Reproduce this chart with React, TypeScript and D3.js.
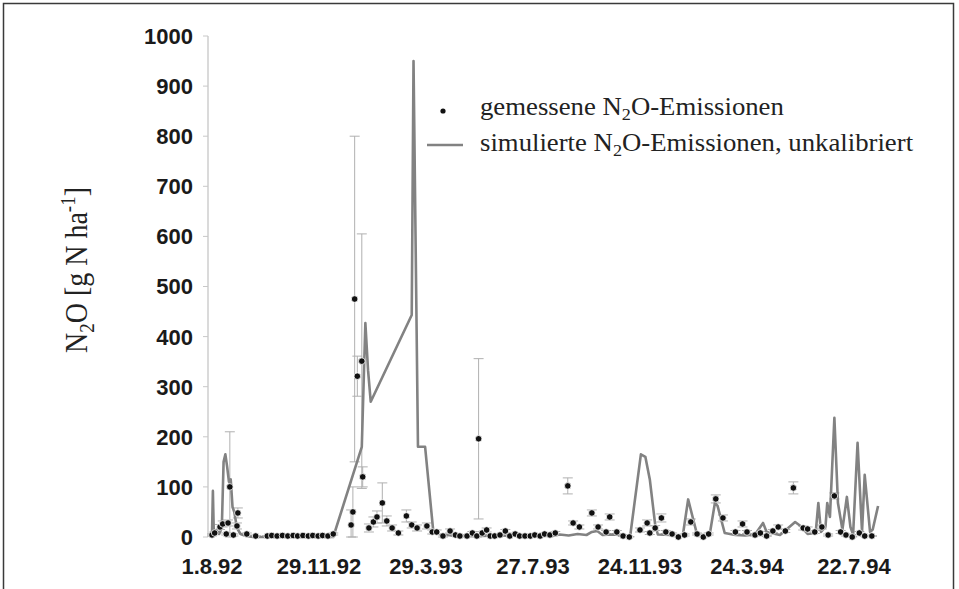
import React from "react";
import * as d3 from "d3";

// Days since 1.8.1992 for each measurement, measured flux and its error
const measDay = [0, 3, 9, 12, 16, 18, 20, 24, 28, 29, 39, 49, 62, 67, 73, 79, 85, 91, 96, 102, 108, 113, 119, 124, 130, 136,
  156, 158, 160, 163, 168, 169, 176, 181, 185, 191, 196, 202, 209, 218, 224, 230, 241, 247, 252, 259, 267, 273, 278, 286, 292, 297, 299, 303, 308,
  312, 317, 323, 329, 334, 340, 345, 351, 357, 362, 368, 373, 379, 385, 399, 405, 412, 426, 433, 442, 446, 454, 461, 468,
  480, 488, 491, 497, 504, 509, 516, 523, 530, 537, 544, 551, 557, 565, 573, 587, 595, 600, 609, 615,
  622, 629, 635, 643, 652, 663, 668, 676, 684, 691, 698, 705, 711, 718, 726, 732, 740];
const measValue = [4, 8, 20, 26, 6, 28, 100, 4, 22, 48, 6, 2, 2, 3, 2, 3, 2, 3, 2, 3, 2, 3, 2, 3, 2, 6,
  24, 50, 475, 321, 351, 120, 18, 30, 40, 68, 32, 18, 8, 42, 24, 18, 22, 10, 10, 2, 12, 4, 2, 2, 8, 2, 196, 8, 14,
  2, 2, 4, 12, 2, 6, 2, 2, 2, 4, 2, 6, 4, 8, 102, 28, 20, 48, 20, 10, 40, 10, 2, 0,
  14, 28, 8, 18, 38, 10, 6, 0, 4, 30, 6, 0, 6, 76, 38, 10, 26, 10, 4, 8,
  2, 12, 20, 12, 98, 18, 16, 10, 20, 4, 82, 10, 4, 0, 8, 2, 2];
const measErr = [2, 3, 5, 6, 2, 6, 110, 2, 6, 10, 2, 1, 1, 1, 1, 1, 1, 1, 1, 1, 1, 1, 1, 1, 1, 2,
  30, 50, 325, 40, 254, 20, 8, 10, 12, 40, 10, 6, 4, 12, 6, 6, 6, 4, 4, 2, 4, 2, 2, 2, 3, 2, 160, 3, 4,
  1, 1, 2, 3, 1, 2, 1, 1, 1, 2, 1, 2, 2, 3, 16, 4, 4, 6, 4, 3, 6, 3, 1, 1,
  4, 6, 3, 5, 8, 3, 2, 1, 2, 6, 2, 1, 2, 8, 6, 3, 6, 3, 2, 3,
  1, 3, 4, 3, 12, 4, 4, 3, 4, 2, 6, 3, 2, 1, 3, 1, 1];

// Simulated (uncalibrated) model output
const simDay = [0, 1, 2, 5, 8, 11, 13, 15, 17, 19, 21, 23, 25, 28, 32, 38, 46, 136, 168, 172, 175, 178, 224, 226, 231, 239, 248, 256,
  270, 300, 340, 382, 390, 400, 410, 420, 426, 432, 438, 450, 462, 469, 481, 486, 491, 497, 500, 528, 534, 544, 558, 564, 567, 575,
  587, 598, 609, 618, 622, 637, 654, 660, 668, 677, 680, 683, 688, 690, 693, 698, 702, 707, 712, 716, 719, 724, 729, 732, 738, 741, 747];
const simValue = [5, 92, 8, 14, 6, 18, 150, 165, 140, 110, 115, 60, 50, 18, 6, 2, 0, 0, 180, 427, 333, 270, 443, 950, 180, 180, 14, 5,
  3, 2, 3, 2, 5, 3, 6, 4, 10, 12, 4, 5, 3, 2, 165, 160, 115, 25, 5, 3, 75, 5, 3, 68, 62, 8,
  4, 3, 5, 28, 10, 4, 30, 22, 6, 8, 68, 10, 20, 68, 40, 238, 68, 15, 80, 20, 5, 188, 10, 124, 10, 15, 62];

const xTickLabels = ["1.8.92", "29.11.92", "29.3.93", "27.7.93", "24.11.93", "24.3.94", "22.7.94"];
const yTicks = [0, 100, 200, 300, 400, 500, 600, 700, 800, 900, 1000];

const START = new Date(Date.UTC(1992, 7, 1));
const parseLabel = d3.utcParse("%d.%m.%y");

export default function App() {
  const W = 959;
  const H = 589;
  const x = d3.scaleUtc()
    .domain([START, d3.utcDay.offset(START, 720)])
    .range([212, 854]);
  const y = d3.scaleLinear().domain([0, 1000]).range([537, 36]);
  const dayX = (d: number) => x(d3.utcDay.offset(START, d));

  const sim = simDay.map((d, i) => [d, simValue[i]] as [number, number]);
  const line = d3.line<[number, number]>()
    .x((p) => dayX(p[0]))
    .y((p) => y(p[1]));

  const meas = measDay.map((d, i) => ({ d, v: measValue[i], e: measErr[i] }));
  const tickFont = "'Liberation Sans Narrow', 'Arial Narrow', 'Liberation Sans', Arial, sans-serif";
  const serif = "'Liberation Serif', 'Times New Roman', serif";

  return (
    <svg width={W} height={H} style={{ position: "absolute", left: 0, top: 0, background: "#fff" }}>
      <rect x={3.5} y={3.5} width={950} height={620} fill="none" stroke="#3a3a3a" strokeWidth={1.5} />

      {/* y axis */}
      <line x1={208} x2={208} y1={y(0)} y2={y(1000)} stroke="#b5b5b5" strokeWidth={1} />
      {yTicks.map((t) => (
        <g key={t}>
          <line x1={203} x2={208} y1={y(t)} y2={y(t)} stroke="#c8c8c8" strokeWidth={1} />
          <text x={193} y={y(t)} dy="0.36em" textAnchor="end" fontFamily={tickFont} fontWeight="bold" fontSize={22} fill="#1a1a1a">
            {t}
          </text>
        </g>
      ))}

      {/* x tick labels */}
      {xTickLabels.map((l) => (
        <text key={l} x={x(parseLabel(l) as Date)} y={574} textAnchor="middle" fontFamily={tickFont} fontWeight="bold" fontSize={22} fill="#1a1a1a">
          {l}
        </text>
      ))}

      {/* y axis title */}
      <text transform="translate(87,270) rotate(-90) scale(1,1.12)" textAnchor="middle" fontFamily={serif} fontSize={28} fill="#222">
        N<tspan fontSize={19} dy={6}>2</tspan><tspan dy={-6}>O [g N ha</tspan>
        <tspan fontSize={19} dy={-11}>-1</tspan><tspan dy={11}>]</tspan>
      </text>

      {/* error bars */}
      {meas.filter((m) => m.e > 0).map((m, i) => {
        const cx = dayX(m.d);
        const top = y(m.v + m.e);
        const bot = y(Math.max(0, m.v - m.e));
        return (
          <g key={"e" + i} stroke="#b0b0b0" strokeWidth={1}>
            <line x1={cx} x2={cx} y1={top} y2={bot} />
            <line x1={cx - 5} x2={cx + 5} y1={top} y2={top} />
            <line x1={cx - 5} x2={cx + 5} y1={bot} y2={bot} />
          </g>
        );
      })}

      {/* simulated line */}
      <path d={line(sim) || ""} fill="none" stroke="#828282" strokeWidth={2.6} strokeLinejoin="round" />

      {/* measured points */}
      {meas.map((m, i) => (
        <circle key={"m" + i} cx={dayX(m.d)} cy={y(m.v)} r={3.3} fill="#111" stroke="#fff" strokeWidth={0.8} />
      ))}

      {/* legend */}
      <circle cx={443} cy={111} r={2.6} fill="#111" />
      <text transform="translate(480,115) scale(1.07,1)" fontFamily={serif} fontSize={25} fill="#222">
        gemessene N<tspan fontSize={17} dy={5}>2</tspan><tspan dy={-5}>O-Emissionen</tspan>
      </text>
      <line x1={427} x2={463} y1={145} y2={145} stroke="#828282" strokeWidth={2.6} />
      <text transform="translate(480,151) scale(1.07,1)" fontFamily={serif} fontSize={25} fill="#222">
        simulierte N<tspan fontSize={17} dy={5}>2</tspan><tspan dy={-5}>O-Emissionen, unkalibriert</tspan>
      </text>
    </svg>
  );
}
